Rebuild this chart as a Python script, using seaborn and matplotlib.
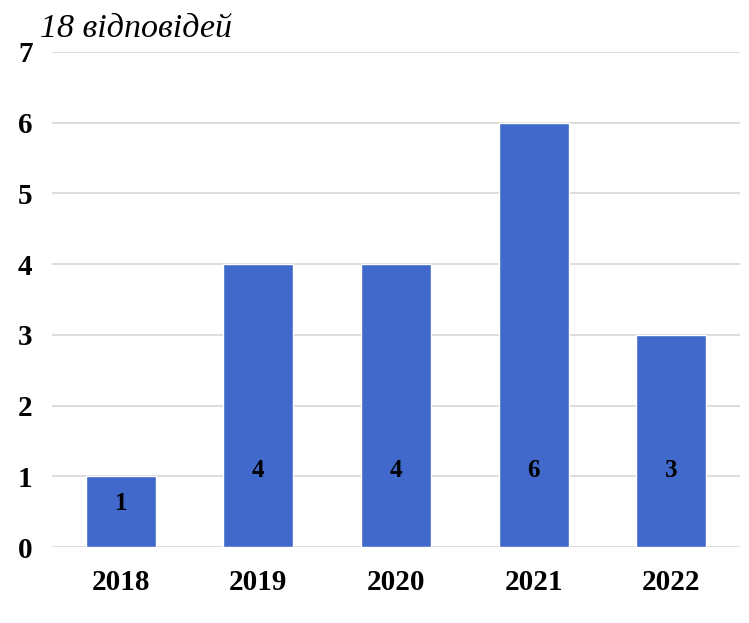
import pandas as pd
import matplotlib
matplotlib.use("Agg")
import matplotlib.pyplot as plt
import seaborn as sns

years = ["2018", "2019", "2020", "2021", "2022"]
counts = [1, 4, 4, 6, 3]
title = "18 відповідей"
y_ticks = [0, 1, 2, 3, 4, 5, 6, 7]

bar_color = "#4169CB"

sns.set_style("white")
plt.rcParams["font.family"] = ["Liberation Serif", "DejaVu Serif"]
plt.rcParams["text.color"] = "black"
plt.rcParams["xtick.color"] = "black"
plt.rcParams["ytick.color"] = "black"

df = pd.DataFrame({"year": years, "count": counts})

fig = plt.figure(figsize=(7.49, 6.23), dpi=100)
ax = fig.add_axes([52 / 749, 76 / 623, 688 / 749, 495 / 623])

sns.barplot(data=df, x="year", y="count", color=bar_color, width=0.51,
            saturation=1, ax=ax, zorder=3)

# labels sit low inside the bars, like the source chart
for i, v in enumerate(counts):
    ax.text(i, min(v * 0.62, 1.08), str(v), ha="center", va="center",
            fontsize=18, fontweight="bold", color="black", zorder=4)

ax.set_xlim(-0.5, 4.5)
ax.set_ylim(0, 7)
ax.set_yticks(y_ticks)
ax.yaxis.grid(True, color="#dadada", linewidth=1.3, zorder=0)
ax.xaxis.grid(False)
for s in ax.spines.values():
    s.set_visible(False)

ax.tick_params(axis="both", length=0, labelsize=21, labelcolor="black")
ax.tick_params(axis="y", pad=14)
ax.tick_params(axis="x", pad=16)
for lbl in ax.get_xticklabels() + ax.get_yticklabels():
    lbl.set_fontweight("bold")
ax.set_xlabel("")
ax.set_ylabel("")

fig.text(40 / 749, 1 - 37 / 623, title, fontsize=24.5, fontstyle="italic",
         ha="left", va="baseline", color="black")

fig.savefig("out.png", dpi=100)
